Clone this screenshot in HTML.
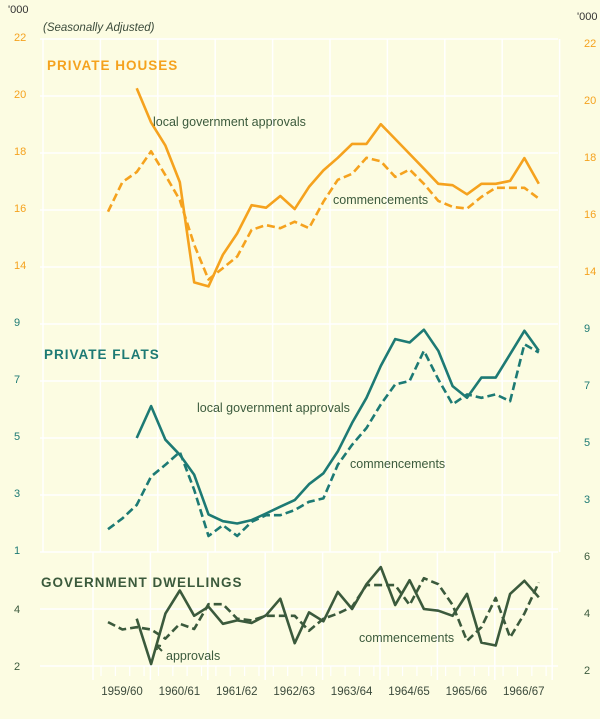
<!DOCTYPE html>
<html><head><meta charset="utf-8"><style>
body{margin:0;background:#fcfce2;}
svg{display:block;font-family:"Liberation Sans",sans-serif;}
</style></head><body>
<svg id="chart" width="600" height="719" viewBox="0 0 600 719">
<rect x="0" y="0" width="600" height="719" fill="#fcfce2"/>
<g id="grid"></g>
<g id="labels"></g>
<g id="series"></g>
<text x="8" y="13" font-size="11" fill="#333">'000</text>
<text x="577" y="20" font-size="11" fill="#333">'000</text>
<text x="43" y="31" font-size="11.5" font-style="italic" fill="#3a4a3a">(Seasonally Adjusted)</text>
<text x="47" y="70" font-size="13.5" font-weight="bold" fill="#f5a21e" letter-spacing="1">PRIVATE HOUSES</text>
<text x="44" y="359" font-size="13.5" font-weight="bold" fill="#1d7a74" letter-spacing="1">PRIVATE FLATS</text>
<text x="41" y="587" font-size="13.5" font-weight="bold" fill="#3b5a3c" letter-spacing="1">GOVERNMENT DWELLINGS</text>
<text x="153" y="126" font-size="12.5" fill="#3b5a3c">local government approvals</text>
<text x="333" y="204" font-size="12.5" fill="#3b5a3c">commencements</text>
<text x="197" y="412" font-size="12.5" fill="#3b5a3c">local government approvals</text>
<text x="350" y="468" font-size="12.5" fill="#3b5a3c">commencements</text>
<text x="359" y="642" font-size="12.5" fill="#3b5a3c">commencements</text>
<text x="166" y="660" font-size="12.5" fill="#3b5a3c">approvals</text>
<path d="M162 651 L156 645 M156 645 L157 650 M156 645 L161 646" stroke="#3b5a3c" stroke-width="2" fill="none"/>
</svg>
<script>
const years = ["1959/60","1960/61","1961/62","1962/63","1963/64","1964/65","1965/66","1966/67"];
const housesTicks = [22,20,18,16,14];
const flatsTicks = [9,7,5,3,1];
const govTicks = [6,4,2];
const housesApprovals = [null,null,20.27,19.07,18.26,16.98,13.46,13.32,14.43,15.18,16.17,16.08,16.49,16.03,16.81,17.39,17.83,18.32,18.32,19.01,18.49,17.97,17.45,16.92,16.87,16.55,16.92,16.92,17.02,17.82,16.92];
const housesCommencements = [15.94,16.98,17.33,18.06,17.22,16.35,14.78,13.56,13.96,14.37,15.30,15.47,15.36,15.59,15.36,16.29,17.06,17.27,17.83,17.71,17.16,17.42,16.92,16.32,16.11,16.05,16.46,16.78,16.78,16.78,16.40];
const flatsApprovals = [null,null,5.0,6.12,4.94,4.41,3.71,2.32,2.08,2.0,2.12,2.35,2.59,2.82,3.38,3.76,4.53,5.53,6.41,7.53,8.47,8.35,8.8,8.06,6.82,6.41,7.12,7.12,7.94,8.76,8.06];
const flatsCommencements = [1.8,2.18,2.65,3.65,4.06,4.51,3.18,1.56,1.94,1.56,2.06,2.29,2.29,2.47,2.76,2.88,4.06,4.76,5.35,6.18,6.88,7.0,8.06,7.06,6.18,6.53,6.41,6.53,6.29,8.29,8.0];
const govApprovals = [null,null,3.66,2.07,3.84,4.65,3.76,4.08,3.48,3.60,3.51,3.78,4.36,2.80,3.88,3.57,4.60,4.0,4.87,5.47,4.14,5.01,4.0,3.94,3.76,4.53,2.82,2.72,4.53,4.99,4.41];
const govCommencements = [3.54,3.28,3.36,3.28,2.96,3.48,3.30,4.17,4.17,3.66,3.60,3.76,3.76,3.76,3.24,3.66,3.84,4.08,4.84,4.84,4.84,4.14,5.08,4.87,4.14,2.88,3.36,4.39,3.0,3.84,4.93];

const NS="http://www.w3.org/2000/svg";
const ROW=57, TOP=39;
function xq(i){return 108+14.36*i;}
function yHouses(v){return TOP+(22-v)/2*ROW;}
function yFlats(v){return TOP+5*ROW+(9-v)/2*ROW;}
function yGov(v){return TOP+9*ROW+(6-v)/2*ROW;}
function mk(tag,attrs,parent){const e=document.createElementNS(NS,tag);for(const k in attrs)e.setAttribute(k,attrs[k]);parent.appendChild(e);return e;}
const grid=document.getElementById('grid'), labels=document.getElementById('labels'), series=document.getElementById('series');
for(let k=0;k<=11;k++){
  const l=mk('line',{x1:40,x2:558,y1:TOP+k*ROW,y2:TOP+k*ROW,stroke:'#ffffff','stroke-width':1.5},grid);
  
  
}
for(let k=0;k<10;k++){
  const x=43+57.4*k;
  const l=mk('line',{x1:x,x2:x,y1:TOP,y2:TOP+9*ROW,stroke:'#ffffff','stroke-width':1.5},grid);
  
  
}
for(let k=0;k<9;k++){
  const x=93+57.4*k;
  const l=mk('line',{x1:x,x2:x,y1:TOP+9*ROW,y2:TOP+11*ROW+14,stroke:'#ffffff','stroke-width':1.5},grid);
  
  
}
for(let i=0;i<32;i++){
  const x=xq(i)-7;
  const l=mk('line',{x1:x,x2:x,y1:TOP+11*ROW,y2:TOP+11*ROW+10,stroke:'#ffffff','stroke-width':1.2},grid);
  
  
}
function tickLabels(ticks,yf,color,name){
  ticks.forEach(v=>{
    const a=mk('text',{x:14,y:yf(v)+2,'font-size':11,fill:color},labels);a.textContent=v;
    
    
    const b=mk('text',{x:584,y:yf(v)+8,'font-size':11,fill:color},labels);b.textContent=v;
    
    
  });
}
tickLabels(housesTicks,yHouses,'#f5a21e','houses');
tickLabels(flatsTicks.filter(v=>v!==1),yFlats,'#1d7a74','flats');
(function(){const a=mk('text',{x:14,y:yFlats(1)+2,'font-size':11,fill:'#1d7a74'},labels);a.textContent=1;

})();
govTicks.forEach(v=>{
  if(v!==6){const a=mk('text',{x:14,y:yGov(v)+4,'font-size':11,fill:'#3b5a3c'},labels);a.textContent=v;
  
  }
  const b=mk('text',{x:584,y:yGov(v)+8,'font-size':11,fill:'#3b5a3c'},labels);b.textContent=v;
  
  
});
years.forEach((y,i)=>{
  const t=mk('text',{x:122+57.4*i,y:695,'font-size':11.5,fill:'#3b4a3b','text-anchor':'middle'},labels);t.textContent=y;
  
  
});
function line(vals,yf,color,dashed,name){
  let d='';let started=false;
  vals.forEach((v,i)=>{if(v==null)return;d+=(started?'L':'M')+xq(i).toFixed(1)+' '+yf(v).toFixed(1)+' ';started=true;});
  const p=mk('path',{d:d,fill:'none',stroke:color,'stroke-width':2.6,'stroke-linejoin':'round'},series);
  if(dashed)p.setAttribute('stroke-dasharray','8,4');
  
  
}
line(housesCommencements,yHouses,'#f5a21e',true,'houses-commencements-line');
line(housesApprovals,yHouses,'#f5a21e',false,'houses-approvals-line');
line(flatsCommencements,yFlats,'#1d7a74',true,'flats-commencements-line');
line(flatsApprovals,yFlats,'#1d7a74',false,'flats-approvals-line');
line(govCommencements,yGov,'#3b5a3c',true,'gov-commencements-line');
line(govApprovals,yGov,'#3b5a3c',false,'gov-approvals-line');
</script>
</body></html>
